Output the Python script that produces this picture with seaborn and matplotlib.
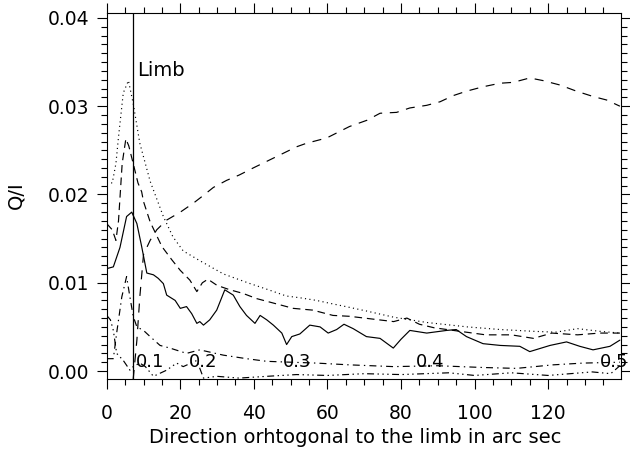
import matplotlib
matplotlib.use("Agg")
import matplotlib.pyplot as plt
import seaborn as sns
import pandas as pd
from matplotlib.ticker import MultipleLocator, FormatStrFormatter

# ---------------- data ----------------
dotted_x = [0, 1.5, 2.5, 3.2, 4.5, 5.9, 7.2, 9, 11.8, 15.4, 18, 20.8, 25.3, 31.7, 39, 44,
            48.8, 52.5, 57, 61.5, 65, 70.6, 78, 87, 98, 107, 116, 122, 128, 134, 139.5]
dotted_y = [0.0214, 0.0213, 0.0235, 0.0265, 0.0315, 0.0329, 0.0303, 0.0258, 0.0215, 0.0175,
            0.0152, 0.0136, 0.0125, 0.0110, 0.0099, 0.0092, 0.0085, 0.0083, 0.0080, 0.0076,
            0.0073, 0.0068, 0.0061, 0.0055, 0.0050, 0.0047, 0.0045, 0.0044, 0.0048, 0.0045,
            0.0043]

dashed_x = [0, 1.5, 2.5, 3.2, 4.2, 5.2, 6.0, 7.2, 8.5, 9.5, 10, 11.8, 15, 17.7, 20, 22.6,
            24.5, 26, 27.5, 30, 33.5, 37, 40.8, 45.3, 50.7, 56, 61.5, 66, 72, 78, 81.6, 85,
            89, 96, 103, 110, 116, 121, 128, 134, 139.5]
dashed_y = [0.0167, 0.0160, 0.0148, 0.0170, 0.0235, 0.0263, 0.0255, 0.0235, 0.0213, 0.0203,
            0.0192, 0.0169, 0.0141, 0.0126, 0.0114, 0.0103, 0.0090, 0.0100, 0.0104, 0.0097,
            0.0092, 0.0088, 0.0082, 0.0077, 0.0071, 0.0069, 0.0063, 0.0062, 0.0059, 0.0056,
            0.0060, 0.0053, 0.0049, 0.0045, 0.0041, 0.0041, 0.0037, 0.0043, 0.0041, 0.0043,
            0.0043]

solid_x = [0, 1.8, 3.6, 5.4, 6.8, 8.2, 9.5, 10.9, 12.7, 14, 15.4, 16.3, 18.6, 20, 21.7, 23.1,
           24.5, 25.3, 26.3, 28, 29.9, 32.1, 34.4, 36.2, 38, 40.3, 41.7, 43.5, 45.3, 47.6,
           48.9, 50.3, 52.5, 55.2, 58, 60.2, 62.5, 64.5, 67, 70.6, 74.3, 77.9, 80, 82.4, 87,
           92.4, 95, 97.8, 102.3, 107, 112.3, 115, 120.5, 125, 128.6, 132.2, 136.8, 139.5]
solid_y = [0.0116, 0.0118, 0.0140, 0.0175, 0.0180, 0.0167, 0.0141, 0.0111, 0.0109, 0.0105,
           0.0099, 0.0086, 0.0080, 0.0071, 0.0073, 0.0065, 0.0054, 0.0056, 0.0052, 0.0058,
           0.0069, 0.0092, 0.0086, 0.0073, 0.0063, 0.0054, 0.0063, 0.0058, 0.0052, 0.0043,
           0.0030, 0.0039, 0.0042, 0.0052, 0.0050, 0.0043, 0.0047, 0.0053, 0.0048, 0.0039,
           0.0037, 0.0026, 0.0036, 0.0046, 0.0043, 0.0046, 0.0047, 0.0039, 0.0031, 0.0029,
           0.0028, 0.0022, 0.0029, 0.0033, 0.0028, 0.0024, 0.0028, 0.0035]

longdash_x = [7.2, 8.2, 9, 10, 11.8, 13.6, 16.3, 20, 23.5, 26.3, 29, 32.6, 36, 39.8, 46.2,
              51.6, 54.3, 59.8, 66, 70.7, 74.3, 78.8, 82.4, 87, 90.6, 94.2, 97.8, 102.3,
              106.9, 110.5, 115, 118.6, 123.2, 127.7, 132.2, 135.9, 139.5]
longdash_y = [-0.0009, 0.0035, 0.0084, 0.0132, 0.0148, 0.0160, 0.0171, 0.0180, 0.0190, 0.0199,
              0.0208, 0.0216, 0.0222, 0.0230, 0.0243, 0.0254, 0.0258, 0.0264, 0.0277, 0.0284,
              0.0292, 0.0293, 0.0298, 0.0301, 0.0305, 0.0312, 0.0317, 0.0322, 0.0326, 0.0327,
              0.0332, 0.0329, 0.0324, 0.0317, 0.0311, 0.0307, 0.0300]

dashdot_x = [0, 1.8, 2.7, 4.1, 5.4, 6.3, 7.2, 8.2, 10, 11.8, 14.5, 17.2, 21.7, 25.3, 31.7, 38,
             43.5, 50, 57, 66, 78, 90, 102.3, 111.4, 121.3, 129.5, 139.5]
dashdot_y = [0.0014, 0.0014, 0.0043, 0.0084, 0.0107, 0.0084, 0.0062, 0.0050, 0.0046, 0.0039,
             0.0029, 0.0026, 0.0020, 0.0024, 0.0018, 0.0014, 0.0011, 0.0010, 0.0009, 0.0007,
             0.0005, 0.0006, 0.0004, 0.0003, 0.0007, 0.0009, 0.0010]

dash3dot_x = [0, 1, 1.8, 2.7, 4.5, 6.3, 7.2, 9, 10.5, 12.7, 16.3, 19, 20.8, 24.5, 26.3, 30, 36,
              43.5, 51.6, 60, 70, 80, 93, 100, 110, 120, 126, 132, 137, 139.5]
dash3dot_y = [0.0063, 0.0058, 0.0046, 0.0020, 0.0012, 0.0001, 0.0005, 0.0009, 0.0005, -0.0006,
              0.0001, 0.0009, 0.0005, 0.0012, -0.0008, -0.0006, -0.0008, -0.0006, -0.0004,
              -0.0005, -0.0003, -0.0004, -0.0002, -0.0005, -0.0002, -0.0005, -0.0003, -0.0001,
              -0.0003, 0.0006]

limb_x = 7.2
mu_labels = ["0.1", "0.2", "0.3", "0.4", "0.5"]
mu_label_x = [11.8, 26.2, 51.7, 87.9, 137.8]
mu_label_y = 0.0010

x_ticks_major = 20
y_ticks_major = 0.01

# ---------------- styling ----------------
sns.set_theme(style="ticks")
plt.rcParams["font.family"] = ["DejaVu Sans"]
plt.rcParams["lines.scale_dashes"] = False
plt.rcParams["axes.linewidth"] = 0.8
plt.rcParams["text.color"] = "black"
plt.rcParams["axes.labelcolor"] = "black"
plt.rcParams["xtick.color"] = "black"
plt.rcParams["ytick.color"] = "black"

fig = plt.figure(figsize=(6.3, 4.53), dpi=100)
ax = fig.add_axes([0.1694, 0.1634, 0.8163, 0.8068])

series = [
    (dotted_x, dotted_y, (0, (0.8, 2.4))),
    (dashed_x, dashed_y, (0, (5.5, 3.5))),
    (solid_x, solid_y, "-"),
    (longdash_x, longdash_y, (0, (6.5, 5.5))),
    (dashdot_x, dashdot_y, (0, (5, 3, 1, 3))),
    (dash3dot_x, dash3dot_y, (0, (5, 2.5, 1, 2.5, 1, 2.5, 1, 2.5))),
]
for xs, ys, ls in series:
    df = pd.DataFrame({"x": xs, "y": ys})
    sns.lineplot(data=df, x="x", y="y", ax=ax, color="black", linewidth=0.85,
                 linestyle=ls, estimator=None, sort=False)

ax.axvline(limb_x, color="black", linewidth=0.9)
ax.text(limb_x + 1.0, 0.0340, "Limb", fontsize=14, va="center", ha="left", color="black")

for lab, lx in zip(mu_labels, mu_label_x):
    ax.text(lx, mu_label_y, lab, fontsize=13, ha="center", va="center", clip_on=False,
            color="black")

ax.set_xlim(0, 139.8)
ax.set_ylim(-0.0009, 0.0405)

ax.xaxis.set_major_locator(MultipleLocator(x_ticks_major))
ax.xaxis.set_minor_locator(MultipleLocator(5))
ax.yaxis.set_major_locator(MultipleLocator(y_ticks_major))
ax.yaxis.set_minor_locator(MultipleLocator(0.001))
ax.yaxis.set_major_formatter(FormatStrFormatter("%.2f"))
ax.xaxis.set_major_formatter(FormatStrFormatter("%d"))

ax.tick_params(which="both", direction="out", top=True, right=True,
               labeltop=False, labelright=False, width=0.8, colors="black",
               labelsize=13.5)
ax.tick_params(which="major", length=7.2)
ax.tick_params(which="minor", length=4)
ax.tick_params(axis="x", which="major", pad=10.5)
ax.tick_params(axis="y", which="major", pad=5.5)

for sp in ax.spines.values():
    sp.set_visible(True)
    sp.set_color("black")

ax.set_xlabel("Direction orhtogonal to the limb in arc sec", fontsize=14, color="black")
ax.set_ylabel("Q/I", fontsize=14, color="black")
ax.xaxis.set_label_coords(0.483, -0.135)
ax.yaxis.set_label_coords(-0.159, 0.503)

fig.savefig("out.png", dpi=100)
